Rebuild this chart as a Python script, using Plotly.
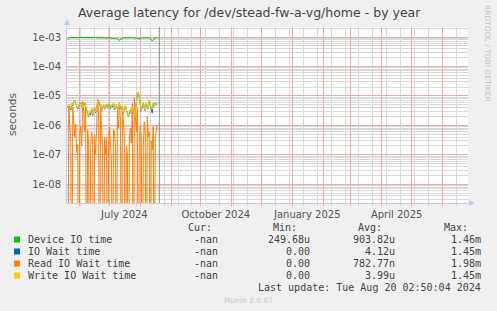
import datetime as dt
import math
import plotly.graph_objects as go

# ---------------- data ----------------
start_day = dt.date(2024, 5, 20)
n_days = 91
dates = [start_day + dt.timedelta(days=i) for i in range(n_days)]

# Device IO time (microseconds)
device_us = [
    830, 905, 955, 960, 958, 962, 960, 957, 961, 959,
    960, 958, 962, 960, 959, 961, 958, 960, 962, 959,
    960, 958, 961, 959, 962, 960, 958, 961, 960, 959,
    960, 958, 950, 940, 945, 952, 948, 930, 925, 935,
    955, 958, 960, 958, 957, 950, 945, 930, 920, 900,
    850, 800, 770, 830, 880, 910, 930, 945, 955, 958,
    960, 957, 955, 958, 960, 959, 955, 950, 945, 940,
    900, 860, 880, 920, 950, 958, 960, 955, 960, 958,
    955, 950, 940, 900, 830, 730, 780, 870, 930, 955, 960,
]
# IO Wait time (microseconds)
iowait_us = [
    4.0, 4.9, 4.3, 3.3, 5.4, 4.6, 6.6, 7.0, 5.5, 4.1,
    3.6, 4.5, 5.6, 6.0, 4.7, 3.4, 5.0, 5.8, 4.1, 3.2,
    2.3, 1.9, 3.0, 2.3, 3.7, 2.1, 3.3, 4.0, 2.7, 3.5,
    6.4, 6.8, 4.6, 5.3, 3.0, 4.2, 5.0, 3.5, 4.4, 5.2,
    3.8, 5.5, 4.5, 3.7, 4.9, 4.3, 5.7, 3.4, 4.0, 5.0,
    3.3, 4.8, 5.4, 3.6, 4.4, 2.9, 2.5, 3.8, 4.6, 3.2,
    2.3, 2.0, 2.6, 3.4, 2.5, 4.1, 3.5, 2.2, 3.6, 5.5,
    12.3, 13.2, 8.8, 5.0, 3.0, 4.5, 6.0, 3.8, 3.1, 5.6,
    4.4, 3.6, 7.0, 4.8, 3.9, 2.6, 5.5, 4.6, 5.9, 5.0, 5.4,
]
# Read IO Wait time (microseconds), 0 = no reads
read_us = [
    0, 5.0, 0.9, 0.3, 0, 4.2, 1.2, 0.4, 1.1, 0.12,
    0.22, 0, 0.5, 0.9, 0.2, 6.5, 3.0, 0.6, 5.5, 0,
    0.7, 0.25, 0, 0.15, 0.6, 0.3, 0, 0.47, 0.1, 0.8,
    7.5, 2.5, 0, 4.0, 0.9, 0.2, 0, 0.4, 0.1, 0.38,
    0, 0.3, 0.9, 0.15, 0.05, 0, 0.7, 0.6, 0.2, 0,
    3.5, 0.8, 6.0, 1.5, 0, 4.5, 0.7, 0.38, 0, 0.2,
    0.1, 0, 0.3, 0.8, 0.25, 5.5, 0, 8.5, 2.0, 0.6,
    4.0, 0, 0.3, 0.9, 0.4, 0, 0.2, 1.3, 0.5, 0,
    2.0, 0.4, 0.6, 0, 0.3, 0.15, 0.9, 0, 0.4, 0.7, 1.0,
]
# Write IO Wait time (microseconds)
write_us = [
    4.2, 5.0, 4.5, 3.6, 5.5, 4.8, 6.8, 7.2, 5.6, 4.4,
    3.8, 4.6, 5.8, 6.2, 4.9, 3.9, 5.2, 5.9, 4.3, 3.5,
    2.4, 2.0, 3.1, 2.6, 3.8, 2.2, 3.4, 4.1, 2.9, 3.6,
    6.5, 7.0, 4.8, 5.4, 3.2, 4.4, 5.1, 3.7, 4.6, 5.3,
    4.0, 5.6, 4.7, 3.9, 5.0, 4.5, 5.8, 3.6, 4.2, 5.1,
    3.4, 4.9, 5.5, 3.8, 4.6, 3.1, 2.6, 3.9, 4.8, 3.3,
    2.4, 2.1, 2.8, 3.5, 2.7, 4.2, 3.6, 2.3, 3.8, 5.6,
    12.5, 13.5, 9.0, 5.2, 3.1, 4.7, 6.2, 4.0, 3.2, 5.8,
    4.6, 3.8, 7.2, 5.0, 4.1, 3.5, 5.6, 4.8, 6.1, 5.2, 5.5,
]

series_names = ["Device IO time", "IO Wait time", "Read IO Wait time", "Write IO Wait time"]
series_colors = ["#00cc00", "#0066b3", "#ff8000", "#ffcc00"]
cur_vals = ["-nan", "-nan", "-nan", "-nan"]
min_vals = ["249.68u", "0.00", "0.00", "0.00"]
avg_vals = ["903.82u", "4.12u", "782.77n", "3.99u"]
max_vals = ["1.46m", "1.45m", "1.98m", "1.45m"]

y_tick_vals = [1e-3, 1e-4, 1e-5, 1e-6, 1e-7, 1e-8]
y_tick_text = ["1e-03", "1e-04", "1e-05", "1e-06", "1e-07", "1e-08"]
x_label_dates = ["2024-07-16", "2024-10-16", "2025-01-16", "2025-04-16"]
x_label_text = ["July 2024", "October 2024", "January 2025", "April 2025"]

title_text = "Average latency for /dev/stead-fw-a-vg/home - by year"
last_update = "Last update: Tue Aug 20 02:50:04 2024"
now_time = "2024-08-20 02:50:04"

# ---------------- layout geometry ----------------
W, H = 497, 311
L, R, T, B = 67, 29, 27, 108
PW, PH = W - L - R, H - T - B
x_start = dt.datetime(2024, 5, 19, 5, 0)
x_end = dt.datetime(2025, 6, 26, 19, 0)
x_range = [x_start.strftime("%Y-%m-%d %H:%M"), x_end.strftime("%Y-%m-%d %H:%M")]
y_range = [-8.64, -2.66]


def px(x):
    return (x - L) / PW


def py(y):
    return (T + PH - y) / PH


def snap_x_date(d):
    t = dt.datetime(d.year, d.month, d.day)
    frac = (t - x_start).total_seconds() / (x_end - x_start).total_seconds()
    pix = L + frac * PW
    return px(math.floor(pix) + 0.5)


def snap_y_val(v):
    frac = (math.log10(v) - y_range[0]) / (y_range[1] - y_range[0])
    pix = T + PH * (1 - frac)
    return py(math.floor(pix) + 0.5)


FLOOR = 1e-14  # zero values drawn to bottom of log axis


def to_sec(vals):
    return [v * 1e-6 if v > 0 else FLOOR for v in vals]


fig = go.Figure()
for name, col, vals in zip(series_names, series_colors, [device_us, iowait_us, read_us, write_us]):
    fig.add_trace(go.Scatter(x=dates, y=to_sec(vals), mode="lines", name=name,
                             line=dict(color=col, width=1), showlegend=False))

# grid positions
month_starts = []
for yy, mm in [(2024, m) for m in range(6, 13)] + [(2025, m) for m in range(1, 7)]:
    month_starts.append(dt.date(yy, mm, 1))
biweekly = []
d = dt.date(2024, 6, 2)
while d <= dt.date(2025, 6, 26):
    if d not in month_starts:
        biweekly.append(d)
    d += dt.timedelta(days=14)

minor_y = []
for e in range(-9, -2):
    for k in range(2, 10):
        v = k * 10 ** e
        if y_range[0] < math.log10(v) < y_range[1]:
            minor_y.append(v)

major_grid = "#ebacac"
minor_grid = "#d9d9d9"
axis_col = "#c8c8ec"
txt_col = "#555555"

fig.update_layout(
    width=W, height=H,
    margin=dict(l=L, r=R, t=T, b=B),
    paper_bgcolor="#f0f0f0",
    plot_bgcolor="#ffffff",
    font=dict(family="DejaVu Sans", size=10, color=txt_col),
    xaxis=dict(
        type="date", range=x_range,
        tickvals=x_label_dates, ticktext=x_label_text,
        showgrid=False, ticks="", ticklabelstandoff=2,
        showline=True, linecolor=axis_col, linewidth=1,
        zeroline=False, fixedrange=True,
        tickfont=dict(family="DejaVu Sans", size=10, color=txt_col),
    ),
    yaxis=dict(
        type="log", range=y_range,
        tickvals=y_tick_vals, ticktext=y_tick_text,
        showgrid=False, ticks="", showline=True, linecolor=axis_col, linewidth=1,
        zeroline=False, ticklabelstandoff=3,
        tickfont=dict(family="DejaVu Sans", size=10, color=txt_col),
    ),
    showlegend=False,
)

shapes = []
# minor grid
for v in minor_y:
    yy = snap_y_val(v)
    shapes.append(dict(type="line", layer="below", xref="paper", yref="paper", x0=0, x1=1,
                       y0=yy, y1=yy, line=dict(color=minor_grid, width=1)))
for dd in biweekly:
    xx = snap_x_date(dd)
    shapes.append(dict(type="line", layer="below", xref="paper", yref="paper", x0=xx, x1=xx,
                       y0=-3 / PH, y1=1, line=dict(color=minor_grid, width=1)))
# major grid
for v in y_tick_vals:
    yy = snap_y_val(v)
    shapes.append(dict(type="line", layer="below", xref="paper", yref="paper", x0=0, x1=1,
                       y0=yy, y1=yy, line=dict(color=major_grid, width=1)))
for dd in month_starts:
    xx = snap_x_date(dd)
    shapes.append(dict(type="line", layer="below", xref="paper", yref="paper", x0=xx, x1=xx,
                       y0=-3 / PH, y1=1, line=dict(color=major_grid, width=1)))
# vertical "now" rule
shapes.append(dict(type="line", xref="x", yref="paper", x0=now_time, x1=now_time, y0=0, y1=1,
                   line=dict(color="#888888", width=1)))
# axis arrows
shapes.append(dict(type="path", xref="paper", yref="paper",
                   path=f"M {px(64)} {py(25)} L {px(70)} {py(25)} L {px(67)} {py(19)} Z",
                   fillcolor=axis_col, line=dict(width=0)))
shapes.append(dict(type="path", xref="paper", yref="paper",
                   path=f"M {px(469)} {py(200)} L {px(469)} {py(206)} L {px(475)} {py(203)} Z",
                   fillcolor=axis_col, line=dict(width=0)))

annotations = []
annotations.append(dict(text=title_text, xref="paper", yref="paper", x=px(249), y=py(12),
                        xanchor="center", yanchor="middle", showarrow=False,
                        font=dict(family="DejaVu Sans", size=12.5, color="#444444")))
annotations.append(dict(text="seconds", xref="paper", yref="paper", x=px(12), y=py(115),
                        xanchor="center", yanchor="middle", showarrow=False, textangle=-90,
                        font=dict(family="DejaVu Sans", size=10.5, color=txt_col)))
annotations.append(dict(text="RRDTOOL / TOBI OETIKER", xref="paper", yref="paper", x=px(488), y=py(53),
                        xanchor="center", yanchor="middle", showarrow=False, textangle=90,
                        font=dict(family="DejaVu Sans", size=7.5, color="#c4c4c4")))

mono = dict(family="DejaVu Sans Mono", size=10, color="#444444")
col_right = [220, 311.7, 396.7, 483.3]
for xr, hdr in zip(col_right[1:], ["Min:", "Avg:", "Max:"]):
    annotations.append(dict(text=hdr, xref="paper", yref="paper", x=px(xr - 13), y=py(227.7),
                            xanchor="right", yanchor="middle", showarrow=False, font=mono))
annotations.append(dict(text="Cur:", xref="paper", yref="paper", x=px(213.5), y=py(227.7),
                        xanchor="right", yanchor="middle", showarrow=False, font=mono))

row_y = [239.5, 251.5, 263.5, 275.5]
for i in range(4):
    yv = py(row_y[i])
    shapes.append(dict(type="rect", xref="paper", yref="paper",
                       x0=px(14), x1=px(20), y0=py(row_y[i] + 3), y1=py(row_y[i] - 3),
                       fillcolor=series_colors[i], line=dict(width=0)))
    annotations.append(dict(text=series_names[i], xref="paper", yref="paper", x=px(26), y=yv,
                            xanchor="left", yanchor="middle", showarrow=False, font=mono))
    for xr, vals in zip(col_right, [cur_vals, min_vals, avg_vals, max_vals]):
        annotations.append(dict(text=vals[i], xref="paper", yref="paper", x=px(xr), y=yv,
                                xanchor="right", yanchor="middle", showarrow=False, font=mono))

annotations.append(dict(text=last_update, xref="paper", yref="paper", x=px(483), y=py(287.5),
                        xanchor="right", yanchor="middle", showarrow=False, font=mono))
annotations.append(dict(text="Munin 2.0.67", xref="paper", yref="paper", x=px(248.5), y=py(300),
                        xanchor="center", yanchor="middle", showarrow=False,
                        font=dict(family="DejaVu Sans", size=7.5, color="#c8c8c8")))

fig.update_layout(shapes=shapes, annotations=annotations)
fig.write_html("out.html")
